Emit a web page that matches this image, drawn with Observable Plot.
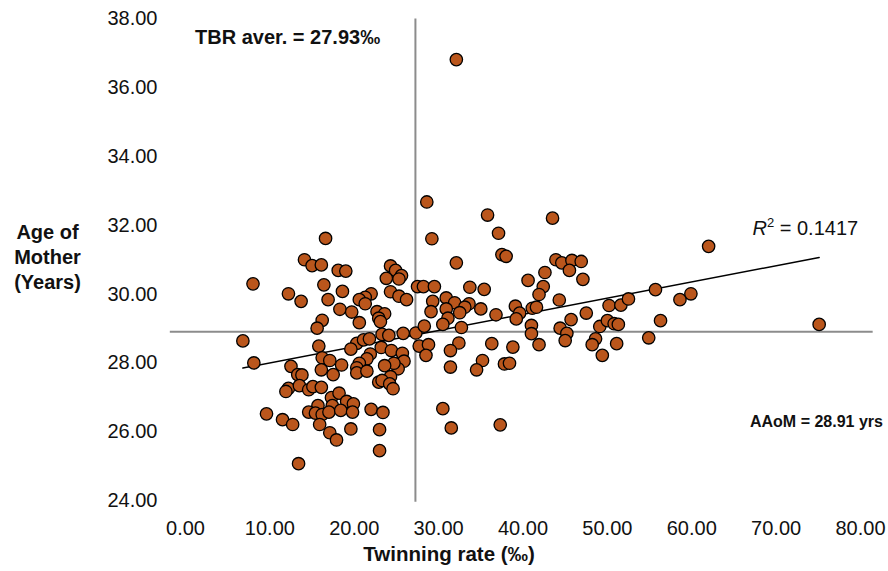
<!DOCTYPE html>
<html>
<head>
<meta charset="utf-8">
<script src="https://cdn.jsdelivr.net/npm/d3@7"></script>
<script src="https://cdn.jsdelivr.net/npm/@observablehq/plot@0.6"></script>
<style>
  html, body { margin: 0; padding: 0; background: #fff; }
  #chart { width: 888px; height: 571px; }
</style>
</head>
<body>
<div id="chart"></div>
<script>
// Twinning rate (‰) per observation
const twinRate = [
  16.6, 14.1, 15.0, 16.1, 18.1, 19.0, 24.3, 24.9, 25.6, 23.8,
  25.3, 8.0, 27.5, 16.4, 12.2, 13.7, 18.6, 16.9, 24.3, 25.3,
  26.2, 22.0, 21.3, 20.6, 21.3, 18.3, 19.7, 22.7, 23.6, 22.9,
  23.1, 16.2, 15.6, 20.6, 6.8, 15.8, 23.3, 24.1, 25.8, 27.3,
  20.3, 21.1, 21.8, 19.6, 23.2, 8.1, 12.5, 13.3, 13.8, 16.2,
  17.1, 16.1, 17.5, 18.5, 24.4, 25.7, 25.9, 25.2, 24.7, 23.6,
  24.3, 21.9, 21.5, 20.6, 20.3, 20.3, 21.5, 22.9, 23.3, 24.2,
  24.6, 12.2, 11.9, 13.5, 14.6, 15.1, 16.1, 17.3, 18.2, 15.7,
  17.4, 19.1, 19.9, 14.6, 15.4, 16.2, 17.0, 18.4, 19.8, 9.6,
  11.5, 12.7, 22.0, 23.4, 15.9, 17.1, 17.9, 19.6, 23.0, 23.0,
  13.4, 28.6, 35.8, 43.5, 29.2, 37.1, 37.5, 38.0, 32.1, 43.9,
  44.6, 45.8, 46.9, 45.5, 47.1, 42.6, 40.6, 42.4, 41.9, 44.3,
  28.2, 29.5, 33.7, 35.4, 29.3, 30.9, 31.9, 33.6, 33.1, 35.0,
  30.9, 29.1, 32.5, 31.1, 30.5, 32.7, 28.3, 36.8, 39.1, 39.6,
  39.2, 41.1, 41.6, 41.0, 41.0, 44.4, 45.7, 47.5, 49.1, 50.0,
  50.8, 51.3, 50.2, 51.6, 52.5, 55.7, 56.3, 45.2, 45.0, 48.6,
  48.2, 51.1, 54.9, 41.9, 38.8, 36.3, 32.4, 27.7, 28.8, 31.4,
  28.5, 31.4, 35.2, 34.5, 37.8, 38.4, 49.4, 30.5, 31.5, 37.3,
  32.1, 62.0, 59.9, 58.6, 75.1
];
// Age of mother (years) per observation
const ageMother = [
  31.62, 31.00, 30.83, 30.85, 30.69, 30.67, 30.82, 30.69, 30.54, 30.46,
  30.44, 30.30, 30.22, 30.27, 30.01, 29.79, 30.08, 29.84, 30.07, 29.94,
  29.84, 30.01, 29.91, 29.84, 29.72, 29.56, 29.48, 29.49, 29.43, 29.30,
  29.20, 29.24, 29.01, 29.17, 28.64, 28.49, 28.83, 28.80, 28.86, 28.87,
  28.57, 28.67, 28.70, 28.40, 28.45, 28.00, 27.90, 27.66, 27.65, 28.15,
  28.07, 27.80, 27.66, 27.94, 28.36, 28.28, 28.05, 27.83, 27.99, 27.92,
  27.60, 28.26, 28.12, 27.99, 27.86, 27.71, 27.76, 27.44, 27.49, 27.39,
  27.25, 27.26, 27.17, 27.34, 27.22, 27.31, 27.29, 26.99, 27.12, 26.76,
  26.76, 26.88, 26.81, 26.57, 26.54, 26.50, 26.57, 26.62, 26.57, 26.52,
  26.35, 26.21, 26.65, 26.56, 26.21, 25.97, 25.76, 26.08, 26.06, 25.45,
  25.07, 32.68, 32.30, 32.21, 31.61, 31.77, 31.15, 31.10, 30.91, 31.00,
  30.91, 30.98, 30.95, 30.69, 30.43, 30.63, 30.40, 30.22, 29.99, 29.83,
  30.22, 30.22, 30.20, 30.14, 29.79, 29.89, 29.75, 29.72, 29.62, 29.57,
  29.57, 29.49, 29.46, 29.30, 29.12, 29.03, 29.07, 29.40, 29.65, 29.45,
  29.28, 29.59, 29.62, 29.09, 28.85, 29.01, 29.26, 29.45, 29.06, 29.23,
  29.14, 29.12, 29.67, 29.68, 29.86, 30.13, 29.23, 28.86, 28.65, 28.70,
  28.53, 28.56, 28.73, 28.53, 28.46, 28.56, 28.58, 28.49, 28.53, 28.36,
  28.22, 27.88, 28.07, 27.80, 27.97, 27.99, 28.22, 26.67, 26.11, 26.20,
  36.82, 31.39, 30.01, 29.84, 29.12
];
const xTicks = [0, 10, 20, 30, 40, 50, 60, 70, 80];
const yTicks = [24, 26, 28, 30, 32, 34, 36, 38];
const tbrAverage = 27.93;   // value shown in the label
const tbrRuleAt = 27.25;    // where the vertical guide sits in the picture
const aaom = 28.91;
const r2 = 0.1417;

const points = twinRate.map((x, i) => ({x, y: ageMother[i]}));
const fmt = d3.format(".2f");
const font = "'Liberation Sans', Arial, sans-serif";

const chart = Plot.plot({
  width: 888,
  height: 571,
  marginLeft: 185,
  marginRight: 28,
  marginTop: 18.5,
  marginBottom: 71,
  style: {fontFamily: font, fontSize: "20px", color: "#111", background: "#fff", overflow: "visible"},
  x: {domain: [0, 80], ticks: xTicks, tickFormat: fmt, tickSize: 0, tickPadding: 20, label: null},
  y: {domain: [24, 38], ticks: yTicks, tickFormat: fmt, tickSize: 0, tickPadding: 28, label: null},
  marks: [
    Plot.ruleY([aaom], {x1: -1.8, x2: 81.5, stroke: "#8c8c8c", strokeWidth: 2}),
    Plot.ruleX([tbrRuleAt], {y1: 23.95, y2: 38, stroke: "#8c8c8c", strokeWidth: 2}),
    Plot.linearRegressionY(points, {x: "x", y: "y", stroke: "#000", strokeWidth: 1.5, ci: 0}),
    Plot.dot(points, {x: "x", y: "y", r: 6.2, fill: "#BA561C", stroke: "#000", strokeWidth: 1.3}),
    Plot.text([`TBR aver. = ${fmt(tbrAverage)}‰`], {x: 12.1, y: 37.26, text: d => d, textAnchor: "middle", lineAnchor: "bottom", fontWeight: "bold", fontSize: 20}),
    Plot.text([`AAoM = ${fmt(aaom)} yrs`], {x: 66.9, y: 26.15, text: d => d, textAnchor: "start", lineAnchor: "bottom", fontWeight: "bold", fontSize: 16}),
    Plot.text([`R2 = ${r2}`], {x: 67.2, y: 31.72, text: d => d, textAnchor: "start", lineAnchor: "bottom", fontSize: 20}),
    Plot.text(["Age of\nMother\n(Years)"], {frameAnchor: "left", y: 31.1, dx: -138, text: d => d, textAnchor: "middle", lineAnchor: "middle", lineHeight: 1.25, fontWeight: "bold", fontSize: 20}),
    Plot.text(["Twinning rate (‰)"], {x: 31.24, frameAnchor: "bottom", dy: 60, text: d => d, textAnchor: "middle", lineAnchor: "bottom", fontWeight: "bold", fontSize: 20.5})
  ]
});

document.getElementById("chart").appendChild(chart);

// Italic R with superscript 2 for the R² annotation
d3.select(chart).selectAll("text").each(function() {
  const t = d3.select(this);
  if (t.text() === `R2 = ${r2}`) {
    t.text(null);
    t.append("tspan").attr("font-style", "italic").text("R");
    t.append("tspan").attr("font-size", "13px").attr("dy", "-8").text("2");
    t.append("tspan").attr("dy", "8").text(` = ${r2}`);
  }
});
</script>
</body>
</html>
